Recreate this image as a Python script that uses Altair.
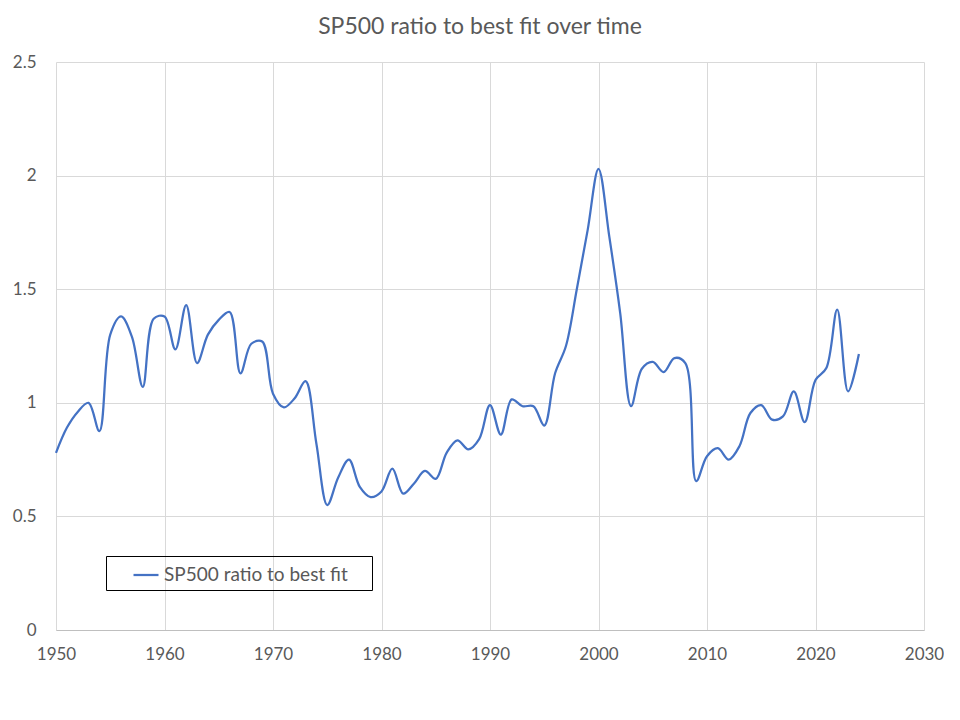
import altair as alt
import pandas as pd

years = list(range(1950, 2025))
ratio = [
    0.78, 0.89, 0.96, 1.00, 0.875, 1.30, 1.38, 1.29, 1.07, 1.37,
    1.38, 1.235, 1.43, 1.175, 1.30, 1.365, 1.40, 1.13, 1.26, 1.27,
    1.04, 0.98, 1.02, 1.095, 0.82, 0.55, 0.67, 0.75, 0.63, 0.585,
    0.61, 0.71, 0.60, 0.645, 0.70, 0.665, 0.78, 0.835, 0.795, 0.84,
    0.99, 0.86, 1.015, 0.985, 0.985, 0.90, 1.13, 1.25, 1.50, 1.76,
    2.03, 1.73, 1.395, 0.985, 1.15, 1.18, 1.135, 1.197, 1.175, 0.655,
    0.765, 0.80, 0.75, 0.81, 0.955, 0.99, 0.926, 0.94, 1.05, 0.915,
    1.10, 1.153, 1.41, 1.05, 1.215,
]
series_name = "SP500 ratio to best fit"
x_ticks = list(range(1950, 2031, 10))
y_ticks = [0, 0.5, 1, 1.5, 2, 2.5]

df = pd.DataFrame({"year": years, "ratio": ratio, "series": series_name})

GREY = "#595959"
FONT = "Lato"
# blank braille cell: invisible, but not trimmed away like spaces
PAD = "\u2800"

chart = (
    alt.Chart(df)
    .mark_line(interpolate="catmull-rom", strokeWidth=2.25)
    .encode(
        x=alt.X(
            "year:Q",
            scale=alt.Scale(domain=[1950, 2030], nice=False),
            axis=alt.Axis(
                values=x_ticks, format="d", title=None, ticks=False,
                labelFlush=False, labelPadding=16, domainColor="#bfbfbf",
            ),
        ),
        y=alt.Y(
            "ratio:Q",
            scale=alt.Scale(domain=[0, 2.5], nice=False),
            axis=alt.Axis(
                values=y_ticks, format="~g", title=None, ticks=False,
                domain=False, labelPadding=20,
            ),
        ),
        color=alt.Color(
            "series:N",
            scale=alt.Scale(domain=[series_name], range=["#4472C4"]),
            legend=alt.Legend(
                title=None, orient="none", legendX=50, legendY=494,
                strokeColor="black", padding=5, symbolType="stroke",
                symbolSize=625, symbolStrokeWidth=2.25, symbolOffset=21,
                labelOffset=4, labelFont=FONT, labelFontSize=19,
                labelColor=GREY, labelLimit=400,
                labelExpr="datum.label + ' " + PAD + "'",
            ),
        ),
    )
    .properties(
        width=868,
        height=568,
        autosize=alt.AutoSizeParams(type="none"),
        padding={"left": 48, "top": 54, "right": 20, "bottom": 80},
        title=alt.TitleParams(
            "SP500 ratio to best fit over time",
            font=FONT, fontSize=23, fontWeight="normal", color=GREY,
            anchor="middle", dx=-10, offset=14,
        ),
    )
    .configure_axis(
        labelFont=FONT, labelFontSize=17, labelColor=GREY,
        gridColor="#d9d9d9", gridWidth=1, grid=True,
    )
    .configure_view(strokeWidth=0)
)

chart.save("out.html", embed_options={"renderer": "svg", "actions": False})
